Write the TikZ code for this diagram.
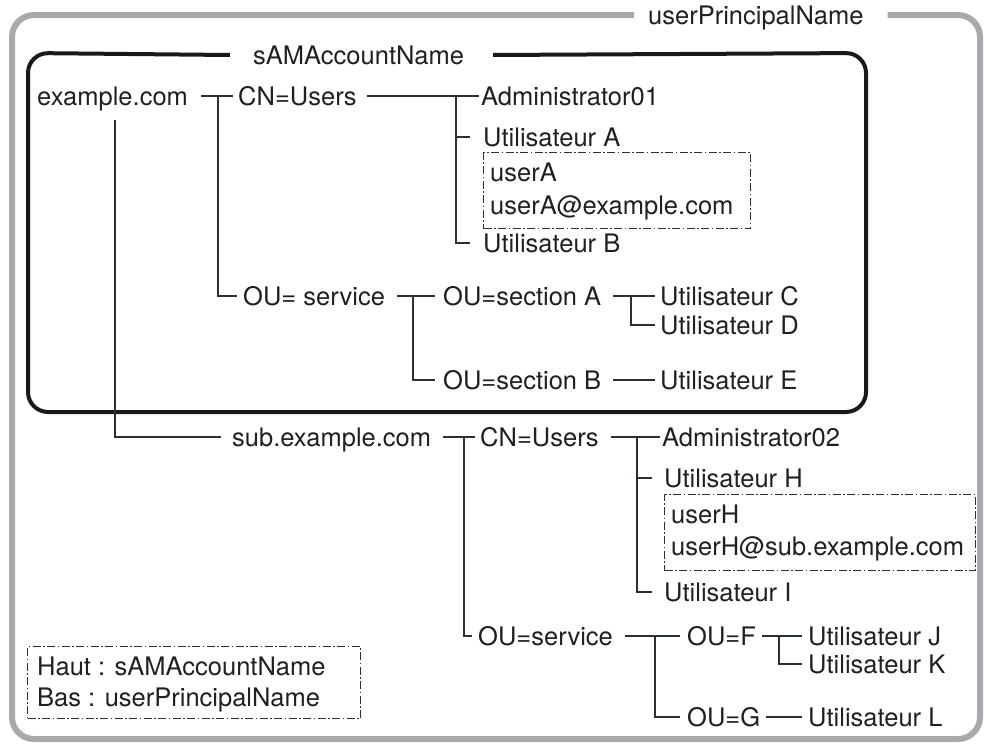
\documentclass[tikz,border=0pt]{standalone}
\usepackage{fontspec}
\setmainfont{TeX Gyre Heros}
\usetikzlibrary{calc}
\definecolor{txt}{HTML}{231F20}
\definecolor{framegray}{HTML}{A7A9AC}
\definecolor{ln}{HTML}{2B3035}
\begin{document}
\begin{tikzpicture}[x=1pt,y=-1pt,
  lbl/.style={anchor=west, inner sep=0pt, text height=18.4pt, text depth=0pt, font=\fontsize{25.5}{30}\selectfont, text=txt},
  conn/.style={draw=ln, line width=1.1pt},
  dd/.style={draw=ln, line width=1pt, dash pattern=on 8pt off 2.5pt on 1.5pt off 2.5pt, inner sep=0pt, anchor=north west}]
\useasboundingbox (0,0) rectangle (984,744);
% labels of frames
\node[lbl] (upn) at (648,15) {userPrincipalName};
\node[lbl] (sam) at (253,55) {sAMAccountName};
% outer grey frame
\draw[framegray, line width=6pt, rounded corners=22pt]
  ([xshift=-14pt]upn.west) -- (12,15) -- (12,739) -- (980,739) -- (980,15) -- ([xshift=24pt]upn.east);
% inner black frame
\draw[black!90, line width=4pt, rounded corners=20pt]
  ([xshift=-23pt]sam.west) -- (28,53) -- (28,412) -- (866,412) -- (866,53) -- ([xshift=29pt]sam.east);

% ---- top tree
\node[lbl] (ex) at (37,96) {example.com};
\node[lbl] (cn1) at (238,96) {CN=Users};
\node[lbl] (adm1) at (481,96) {Administrator01};
\node[lbl] (ua) at (483,137) {Utilisateur A};
\node[dd, minimum width=267pt, minimum height=76pt] (boxA) at (483,152) {};
\node[lbl] (ua1) at (490,172) {userA};
\node[lbl] (ua2) at (490,205) {userA@example.com};
\node[lbl] (ub) at (483,243) {Utilisateur B};
\node[lbl] (ous1) at (243,296) {OU= service};
\node[lbl] (osa) at (443,296) {OU=section A};
\node[lbl] (uc) at (660,296) {Utilisateur C};
\node[lbl] (ud) at (660,325) {Utilisateur D};
\node[lbl] (osb) at (443,380) {OU=section B};
\node[lbl] (ue) at (660,380) {Utilisateur E};

\coordinate (j0) at (115,120);
\coordinate (j1) at (218,96);
\coordinate (j2) at (456,96);
\coordinate (j3) at (413,296);
\coordinate (j4) at (631,296);

\draw[conn] ([xshift=13pt]ex.east) -- ([xshift=-5pt]cn1.west);
\draw[conn] (j1) |- ([xshift=-6pt]ous1.west);
\draw[conn] ([xshift=10pt]cn1.east) -- ([xshift=-2pt]adm1.west);
\draw[conn] (j2) |- ([xshift=-13pt]ub.west);
\draw[conn] (j2 |- ua.west) -- ([xshift=-13pt]ua.west);
\draw[conn] ([xshift=12pt]ous1.east) -- ([xshift=-8pt]osa.west);
\draw[conn] (j3) |- ([xshift=-8pt]osb.west);
\draw[conn] ([xshift=12pt]osa.east) -- ([xshift=-5pt]uc.west);
\draw[conn] (j4) |- ([xshift=-5pt]ud.west);
\draw[conn] ([xshift=12pt]osb.east) -- ([xshift=-5pt]ue.west);

% ---- sub tree
\node[lbl] (sub) at (232,437) {sub.example.com};
\node[lbl] (cn2) at (480,437) {CN=Users};
\node[lbl] (adm2) at (662,437) {Administrator02};
\node[lbl] (uh) at (664,478) {Utilisateur H};
\node[dd, minimum width=311pt, minimum height=76pt] (boxH) at (664,494) {};
\node[lbl] (uh1) at (671,514) {userH};
\node[lbl] (uh2) at (671,546) {userH@sub.example.com};
\node[lbl] (ui) at (664,592) {Utilisateur I};
\node[lbl] (ous2) at (478,636) {OU=service};
\node[lbl] (ouf) at (687,636) {OU=F};
\node[lbl] (uj) at (808,636) {Utilisateur J};
\node[lbl] (uk) at (808,664) {Utilisateur K};
\node[lbl] (oug) at (687,717) {OU=G};
\node[lbl] (ul) at (808,717) {Utilisateur L};

\coordinate (j5) at (464,437);
\coordinate (j6) at (637,437);
\coordinate (j7) at (655,636);
\coordinate (j8) at (779,636);

\draw[conn] (j0) |- ([xshift=-11pt]sub.west);
\draw[conn] ([xshift=12pt]sub.east) -- ([xshift=-5pt]cn2.west);
\draw[conn] (j5) |- ([xshift=-6pt]ous2.west);
\draw[conn] ([xshift=12pt]cn2.east) -- ([xshift=-2pt]adm2.west);
\draw[conn] (j6) |- ([xshift=-12pt]ui.west);
\draw[conn] (j6 |- uh.west) -- ([xshift=-12pt]uh.west);
\draw[conn] ([xshift=12pt]ous2.east) -- ([xshift=-7pt]ouf.west);
\draw[conn] (j7) |- ([xshift=-7pt]oug.west);
\draw[conn] ([xshift=6pt]ouf.east) -- ([xshift=-6pt]uj.west);
\draw[conn] (j8) |- ([xshift=-6pt]uk.west);
\draw[conn] ([xshift=6pt]oug.east) -- ([xshift=-6pt]ul.west);

% ---- legend
\node[dd, minimum width=333pt, minimum height=72pt] (leg) at (27,646) {};
\node[lbl] (lg1) at (37,666) {Haut : sAMAccountName};
\node[lbl] (lg2) at (37,697) {Bas : userPrincipalName};
\end{tikzpicture}
\end{document}
